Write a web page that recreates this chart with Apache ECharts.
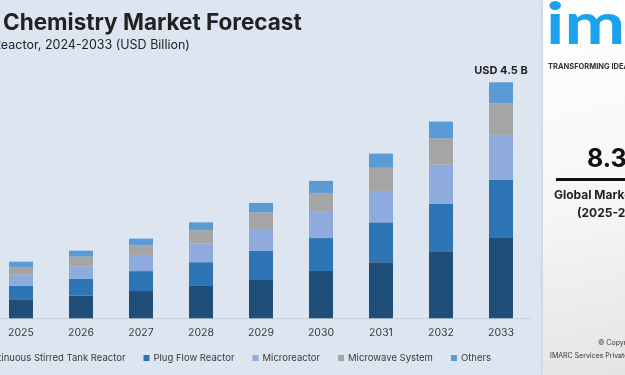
<!DOCTYPE html>
<html>
<head>
<meta charset="utf-8">
<script src="https://cdn.jsdelivr.net/npm/echarts@6/dist/echarts.min.js"></script>
<style>
  html, body { margin: 0; padding: 0; background: #dde5f1; }
  #chart { width: 625px; height: 375px; }
</style>
</head>
<body>
<div id="chart"></div>
<script>
// market breakup by reactor, USD billion
const years = ["2025", "2026", "2027", "2028", "2029", "2030", "2031", "2032", "2033"];
const cstr = [0.35, 0.43, 0.52, 0.63, 0.73, 0.90, 1.07, 1.28, 1.53];
const plugFlow = [0.27, 0.32, 0.38, 0.44, 0.56, 0.63, 0.76, 0.91, 1.11];
const microreactor = [0.21, 0.24, 0.29, 0.36, 0.41, 0.50, 0.60, 0.74, 0.86];
const microwave = [0.15, 0.19, 0.20, 0.25, 0.32, 0.36, 0.44, 0.50, 0.60];
const others = [0.10, 0.11, 0.13, 0.15, 0.18, 0.23, 0.27, 0.32, 0.40];
const seriesNames = ["Continuous Stirred Tank Reactor", "Plug Flow Reactor", "Microreactor", "Microwave System", "Others"];
const seriesData = [cstr, plugFlow, microreactor, microwave, others];

const C = {
  bg: "#dde5f1",
  text: "#222222",
  muted: "#3a3a3a",
  bars: ["#1f4e79", "#2e75b6", "#8faadc", "#a5a5a5", "#5b9bd5"],
  imarc: "#1aa3ec"
};
const FONT = "Inter, 'Noto Sans', sans-serif";

const chart = echarts.init(document.getElementById("chart"));

const series = seriesData.map(function (vals, i) {
  const s = {
    name: seriesNames[i],
    type: "bar",
    stack: "total",
    barWidth: 24,
    data: vals.slice(),
    itemStyle: { color: C.bars[i] }
  };
  if (i === seriesData.length - 1) {
    s.label = {
      show: true,
      position: "top",
      distance: 6,
      color: C.text,
      fontFamily: FONT,
      fontSize: 11,
      fontWeight: "bold",
      formatter: function (p) {
        if (p.dataIndex !== years.length - 1) return "";
        return "USD 4.5 B";
      }
    };
  }
  return s;
});

chart.setOption({
  backgroundColor: C.bg,
  animation: false,
  textStyle: { fontFamily: FONT },
  grid: { left: -9, width: 540, top: 82.3, bottom: 56.7, containLabel: false, outerBoundsMode: "none" },
  xAxis: {
    type: "category",
    data: years,
    axisLine: { lineStyle: { color: "#c9d0db", width: 1 } },
    axisTick: { show: false },
    axisLabel: { color: C.muted, fontSize: 10.5, margin: 9, fontFamily: FONT }
  },
  yAxis: {
    type: "value",
    min: 0,
    max: 4.5,
    show: false,
    splitLine: { show: false }
  },
  legend: {
    left: -35,
    top: 348,
    itemWidth: 6,
    itemHeight: 6,
    itemGap: 18,
    icon: "rect",
    textStyle: { color: C.muted, fontSize: 9.5, fontFamily: FONT, padding: [0, 0, 0, -1] }
  },
  series: series,
  graphic: [
    {
      type: "text", left: 3, top: 12,
      style: { text: "Chemistry Market Forecast", fill: C.text, font: "bold 22.5px " + FONT }
    },
    {
      type: "text", left: -7, top: 39,
      style: { text: "Reactor, 2024-2033 (USD Billion)", fill: C.text, font: "12.5px " + FONT }
    },
    // right side panel
    {
      type: "rect", shape: { x: 543, y: 0, width: 82, height: 375 },
      style: {
        fill: new echarts.graphic.LinearGradient(0, 0, 1, 1, [
          { offset: 0, color: "#ffffff" },
          { offset: 0.55, color: "#f6f6f6" },
          { offset: 1, color: "#e4e4e4" }
        ]),
        shadowBlur: 4, shadowColor: "rgba(0,0,0,0.15)"
      }
    },
    {
      type: "text", x: 546, y: -4, scaleX: 1.25,
      style: { text: "imarc", fill: C.imarc, font: "bold 58px Lato, " + FONT }
    },
    {
      type: "text", left: 548, top: 63,
      style: { text: "TRANSFORMING IDEAS INTO IMPACT", fill: "#333", font: "bold 7.5px " + FONT }
    },
    {
      type: "text", left: 587, top: 147,
      style: { text: "8.38%", fill: "#111", font: "bold 25px " + FONT }
    },
    {
      type: "rect", shape: { x: 556, y: 178, width: 69, height: 3 },
      style: { fill: "#111" }
    },
    {
      type: "text", left: 554, top: 189,
      style: { text: "Global Market Growth Rate", fill: "#222", font: "bold 12px " + FONT }
    },
    {
      type: "text", left: 577, top: 207,
      style: { text: "(2025-2033)", fill: "#222", font: "bold 12px " + FONT }
    },
    {
      type: "text", left: 598, top: 339,
      style: { text: "\u00a9 Copyright", fill: "#333", font: "7px " + FONT }
    },
    {
      type: "text", left: 550, top: 352,
      style: { text: "IMARC Services Private Limited", fill: "#333", font: "7px " + FONT }
    }
  ]
});
</script>
</body>
</html>
